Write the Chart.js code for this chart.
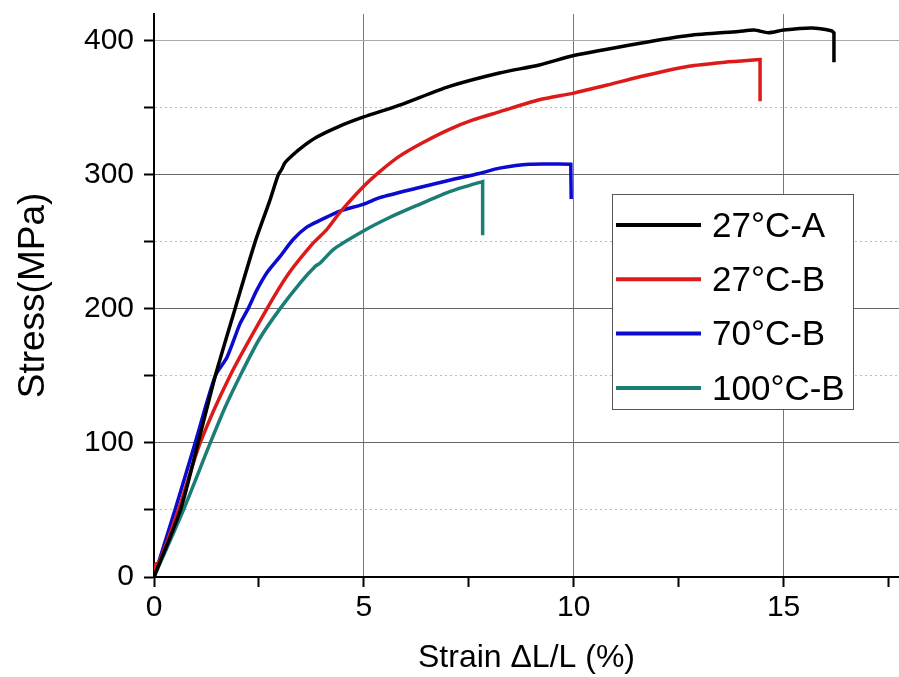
<!DOCTYPE html>
<html><head><meta charset="utf-8">
<script src="https://cdn.jsdelivr.net/npm/chart.js@4.4.1/dist/chart.umd.min.js"></script>
<style>html,body{margin:0;padding:0;background:#fff;} #wrap{width:899px;height:677px;position:relative;}</style>
</head><body><div id="wrap"><canvas id="c" width="899" height="677"></canvas></div>
<script>
// ---- data ----
const seriesLabels = ['27°C-A', '27°C-B', '70°C-B', '100°C-B'];
const seriesColors = ['#000000', '#dd1a1a', '#0a0ad0', '#1b7d76'];

const strainA = [0, 0.63, 1.05, 1.46, 1.93, 2.41, 2.75, 2.96, 3.04, 3.12, 3.24, 3.5, 3.87, 4.4, 4.98, 5.85, 7.04, 8.23, 9.18, 10.0, 11.55, 12.74, 13.93, 14.3, 14.64, 15.0, 15.67, 16.14, 16.2, 16.2, 16.2];
const stressA = [0, 50, 100, 150, 200, 250, 280, 300, 304, 309, 313, 320, 328, 336, 343, 352, 366, 376, 382, 389, 398, 404, 407, 408, 406, 408, 409.5, 407.5, 406, 406, 384];

const strainB27 = [0, 0.02, 0.12, 0.58, 1.1, 1.81, 2.69, 3.2, 3.79, 4.11, 4.43, 4.98, 5.4, 5.85, 6.4, 7.04, 7.6, 8.23, 9.18, 10.0, 10.8, 11.55, 12.74, 13.6, 14.44, 14.44, 14.44];
const stressB27 = [0, 9, 11, 50, 100, 150, 200, 226, 249, 259, 272, 291, 303, 314, 324, 334, 341, 347, 356, 361, 367, 373, 381, 384, 386, 386, 355];

const strainB70 = [0, 0.5, 0.98, 1.46, 1.74, 2.05, 2.24, 2.45, 2.69, 3.0, 3.32, 3.64, 3.95, 4.43, 4.98, 5.38, 6.25, 7.04, 7.75, 8.23, 8.94, 9.93, 9.93, 9.94];
const stressB70 = [0, 50, 100, 150, 164, 189, 200, 214, 227, 239, 252, 261, 266, 273, 278, 283, 290, 296, 301, 305, 308, 308, 308, 282];

const strainB100 = [0, 0.7, 1.34, 1.7, 2.05, 2.5, 3.0, 3.5, 3.85, 3.95, 4.3, 4.98, 5.6, 6.25, 7.0, 7.5, 7.83, 7.83, 7.83];
const stressB100 = [0, 50, 100, 127, 150, 177, 200, 220, 232, 234, 245, 258, 268, 277, 287, 292, 295, 295, 255];

const xTickLabels = [0, 5, 10, 15];
const yTickLabels = [0, 100, 200, 300, 400];

const FONT = '"Liberation Sans", Arial, sans-serif';

function pts(xs, ys) { return xs.map((x, i) => ({x: x, y: ys[i]})); }
const allX = [strainA, strainB27, strainB70, strainB100];
const allY = [stressA, stressB27, stressB70, stressB100];

const datasets = seriesLabels.map((lab, i) => ({
  label: lab,
  data: pts(allX[i], allY[i]),
  borderColor: seriesColors[i],
  backgroundColor: seriesColors[i],
  borderWidth: 3.5,
  pointRadius: 0,
  tension: 0.25,
  showLine: true,
  fill: false
}));

const legendPlugin = {
  id: 'boxLegend',
  afterDraw(chart) {
    const ctx = chart.ctx;
    const bx = 612, by = 194, bw = 241, bh = 215;
    ctx.save();
    ctx.fillStyle = '#fff';
    ctx.fillRect(bx, by, bw, bh);
    ctx.strokeStyle = '#555';
    ctx.lineWidth = 1;
    ctx.strokeRect(bx + 0.5, by + 0.5, bw, bh);
    chart.data.datasets.forEach((ds, i) => {
      const yy = 225 + i * 54.3;
      ctx.strokeStyle = ds.borderColor;
      ctx.lineWidth = 4;
      ctx.beginPath();
      ctx.moveTo(616, yy);
      ctx.lineTo(701, yy);
      ctx.stroke();
      ctx.fillStyle = '#000';
      ctx.font = '35px ' + FONT;
      ctx.textBaseline = 'middle';
      ctx.textAlign = 'left';
      ctx.fillText(ds.label, 712, yy + 2);
    });
    ctx.restore();
  }
};

new Chart(document.getElementById('c'), {
  type: 'scatter',
  data: { datasets: datasets },
  plugins: [legendPlugin],
  options: {
    responsive: false,
    animation: false,
    layout: { padding: { top: 14, right: 0, left: 0, bottom: 0 } },
    plugins: { legend: { display: false }, tooltip: { enabled: false } },
    scales: {
      x: {
        type: 'linear', min: 0, max: 17.75,
        ticks: {
          stepSize: 2.5, includeBounds: false, autoSkip: false, maxRotation: 0,
          color: '#000', padding: 3, font: { size: 30, family: FONT },
          callback: (v) => xTickLabels.includes(v) ? String(v) : ''
        },
        grid: {
          color: (c) => (c.tick && c.tick.value % 5 === 0 && c.tick.value !== 0) ? '#777' : 'rgba(0,0,0,0)',
          lineWidth: 1, tickColor: '#000', tickWidth: 2, tickLength: 10
        },
        border: { color: '#000', width: 2 },
        title: { display: true, text: 'Strain ΔL/L (%)', color: '#000', font: { size: 32, family: FONT }, padding: { top: 0, bottom: 0 } },
        afterFit: (s) => { s.height = 100; s.paddingLeft = 0; s.paddingRight = 0; }
      },
      y: {
        type: 'linear', min: 0, max: 420,
        ticks: {
          stepSize: 50, includeBounds: false, autoSkip: false,
          color: '#000', padding: 10, font: { size: 30, family: FONT },
          callback: (v) => yTickLabels.includes(v) ? String(v) : ''
        },
        grid: {
          color: (c) => {
            if (!c.tick) return '#666';
            const v = c.tick.value;
            if (v === 0) return 'rgba(0,0,0,0)';
            if (v % 100 === 0) return v === 400 ? '#aaa' : '#666';
            return '#bbb';
          },
          lineWidth: 1, tickColor: '#000', tickWidth: 2, tickLength: 10
        },
        border: {
          color: '#000', width: 2,
          dash: (c) => (c.tick && c.tick.value % 100 !== 0) ? [2, 3] : []
        },
        title: { display: true, text: 'Stress(MPa)', color: '#000', font: { size: 37, family: FONT }, padding: { top: 12, bottom: 0 } },
        afterFit: (s) => { s.width = 154; s.paddingTop = 0; s.paddingBottom = 0; }
      }
    }
  }
});
</script>
</body></html>
